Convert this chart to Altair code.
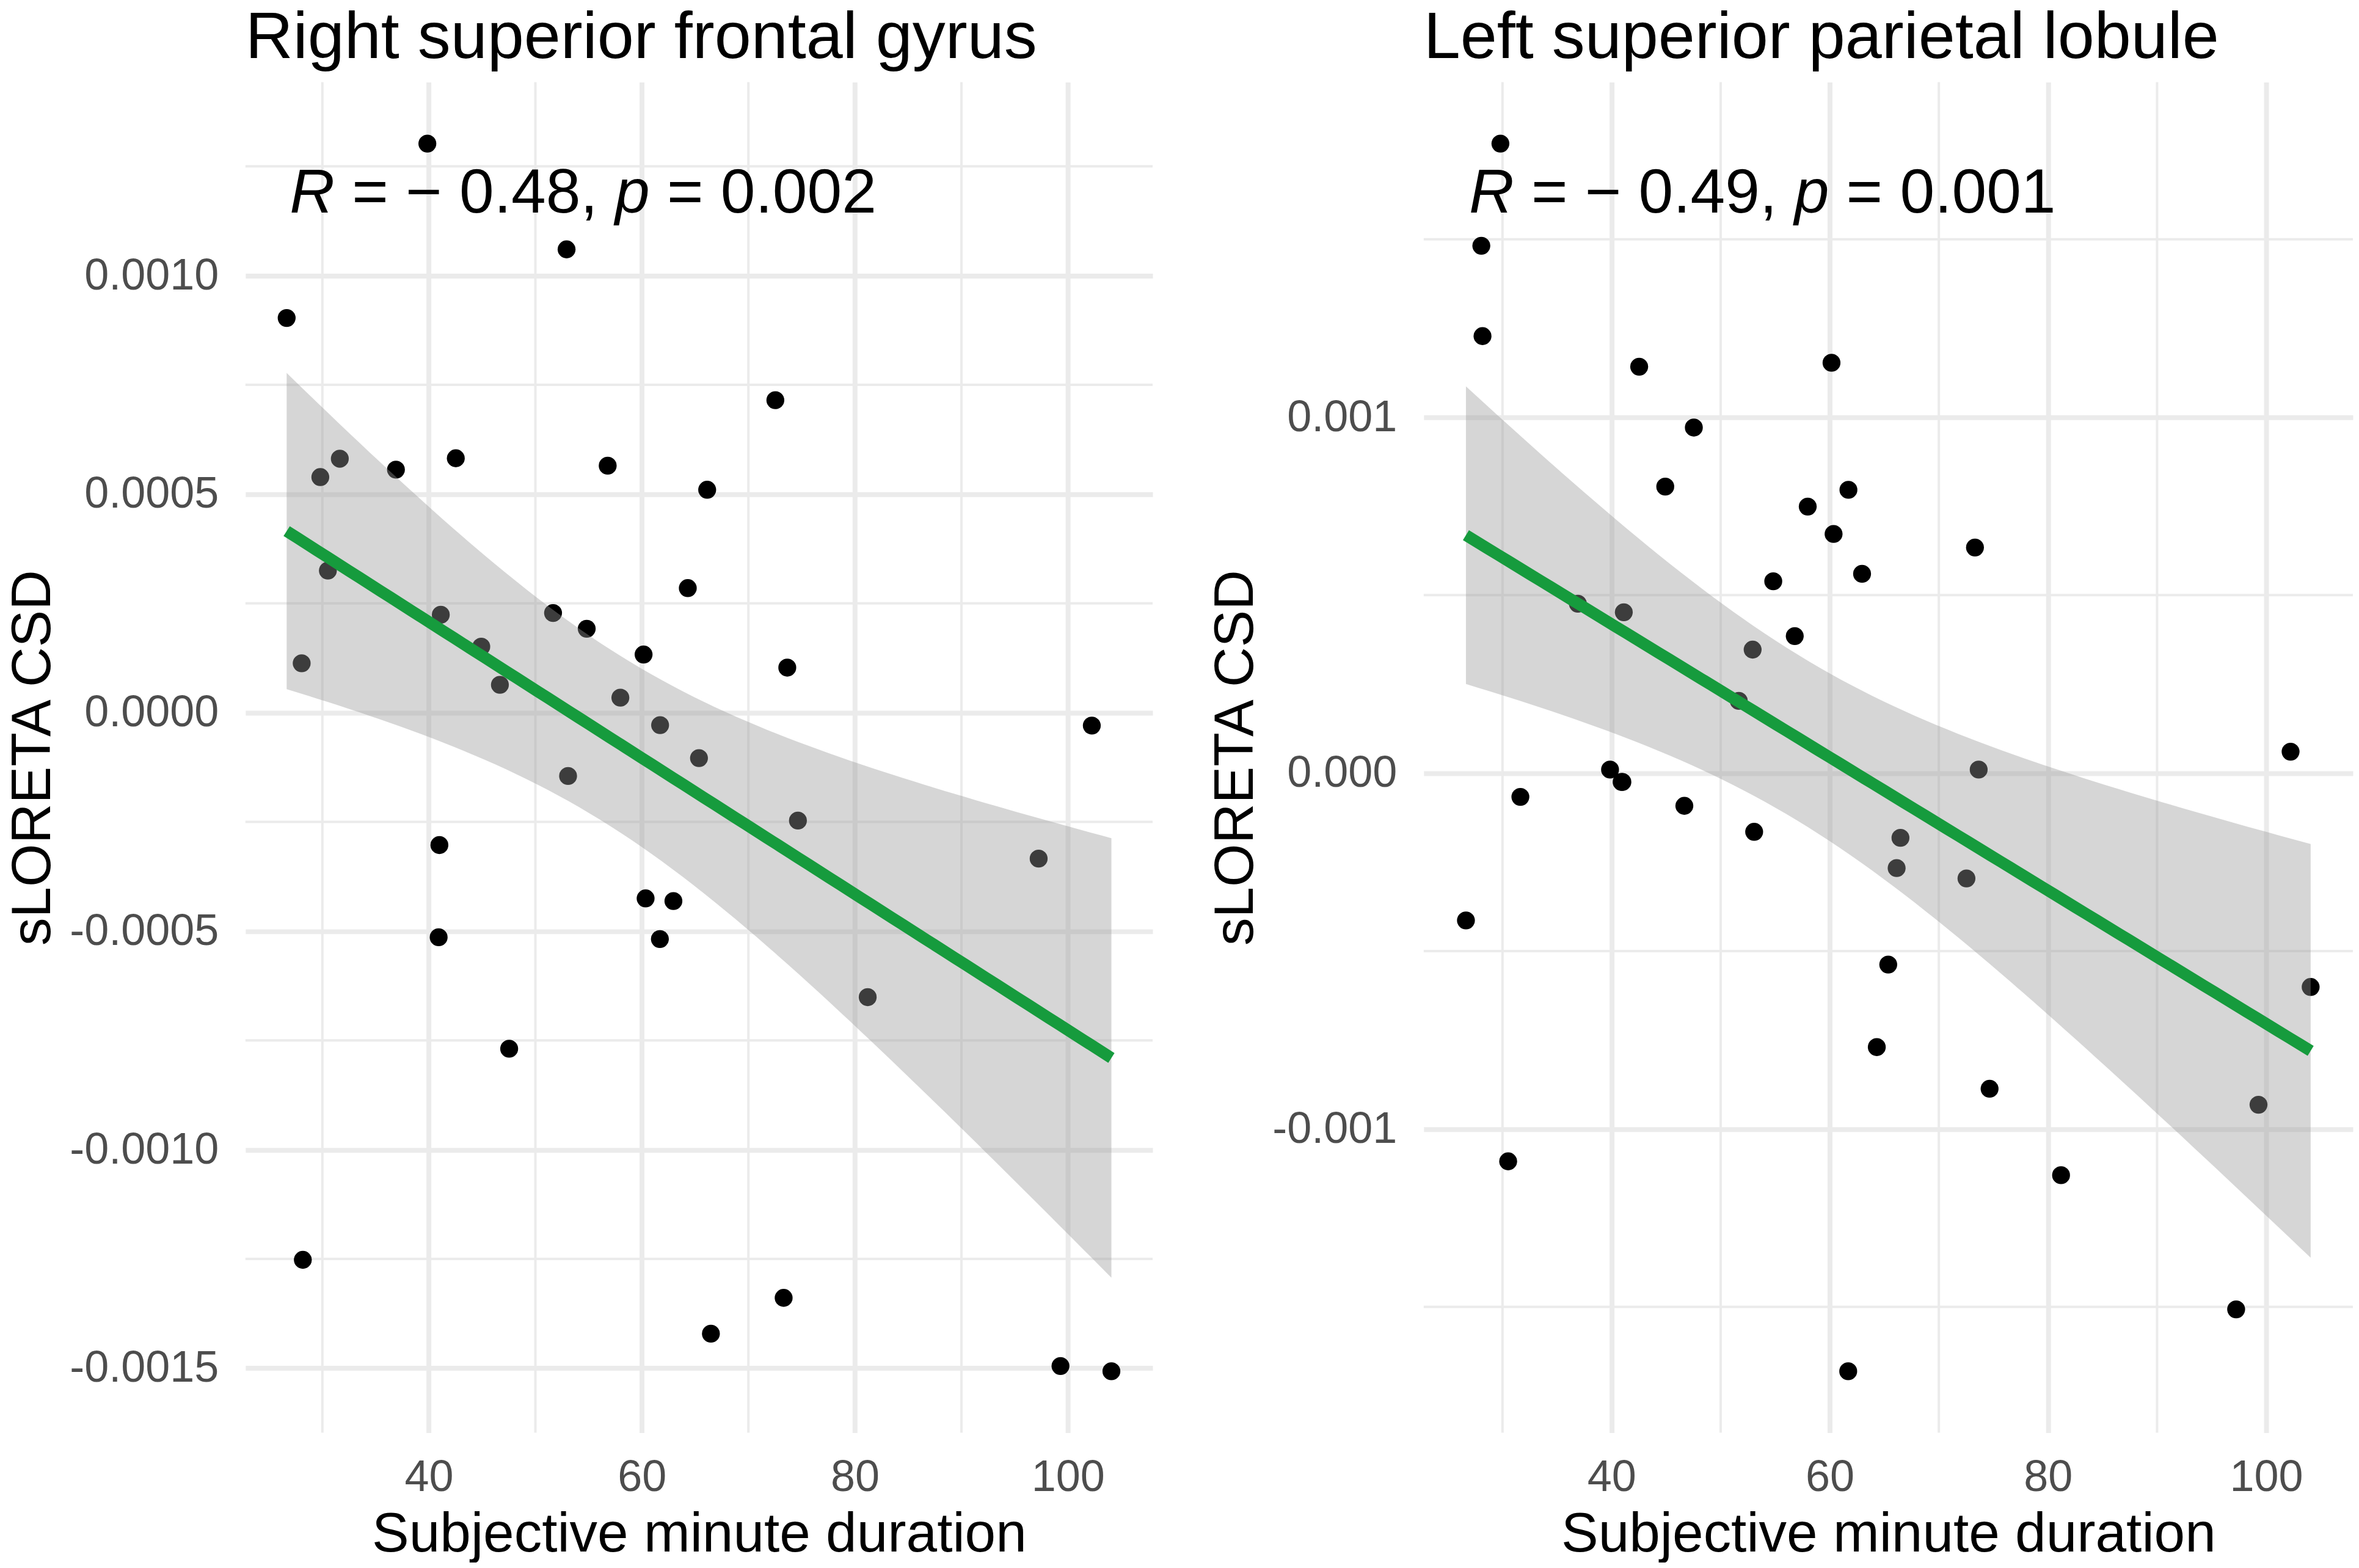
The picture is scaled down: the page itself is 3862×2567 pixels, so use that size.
import altair as alt
import numpy as np
import pandas as pd

# ---------------- data ----------------
duration = [26.65, 39.86, 52.93, 29.81, 31.64, 36.91, 42.53, 56.79, 66.13, 72.53,
            30.52, 64.31, 28.06, 41.12, 51.66, 54.82, 44.92, 60.16, 73.65, 46.67,
            57.98, 61.71, 102.24, 65.36, 53.07, 74.65, 97.25, 40.99, 60.35, 62.96,
            40.92, 61.69, 81.20, 47.54, 28.17, 73.31, 66.48, 99.30, 104.08]

csd_frontal = [0.000903, 0.001302, 0.001060, 0.000539, 0.000581, 0.000556, 0.000582, 0.000565,
               0.000510, 0.000715, 0.000325, 0.000285, 0.000113, 0.000224, 0.000228, 0.000192,
               0.000151, 0.000133, 0.000103, 0.0000638, 0.0000342, -0.0000285, -0.0000296,
               -0.000104, -0.000145, -0.000247, -0.000334, -0.000303, -0.000425, -0.000431,
               -0.000514, -0.000518, -0.000651, -0.000769, -0.001252, -0.001339, -0.001421,
               -0.001495, -0.001507]

csd_parietal = [-0.000414, 0.0000098, 0.000347, 0.001769, -0.0000668, 0.000476, 0.001142, 0.000385,
                -0.000267, -0.000296, -0.001091, -0.000770, 0.001482, 0.000452, 0.000203, 0.000539,
                0.000805, 0.001153, 0.0000098, -0.000092, 0.000749, 0.000796, 0.0000602,
                -0.000538, -0.000165, -0.000887, -0.001507, -0.000025, 0.000672, 0.000560,
                -0.000025, -0.001681, -0.001130, 0.000971, 0.001228, 0.000634, -0.000182,
                -0.000932, -0.000601]

panel_titles = ["Right superior frontal gyrus", "Left superior parietal lobule"]
r_values = ["\u2212 0.48", "\u2212 0.49"]
p_values = ["0.002", "0.001"]

x_title = "Subjective minute duration"
y_title = "sLORETA CSD"
x_ticks = [40, 60, 80, 100]
x_minor = [30, 50, 70, 90]
y_ticks_frontal = [-0.0015, -0.0010, -0.0005, 0.0, 0.0005, 0.0010]
y_minor_frontal = [-0.00125, -0.00075, -0.00025, 0.00025, 0.00075, 0.00125]
y_ticks_parietal = [-0.001, 0.0, 0.001]
y_minor_parietal = [-0.0015, -0.0005, 0.0005, 0.0015]

FONT = "Liberation Sans"
GRID = "#EBEBEB"
GREEN = "#169B3D"
T975 = 2.0262  # t quantile, df = n - 2 = 37


def expanded(vals, frac=0.05):
    lo, hi = min(vals), max(vals)
    pad = (hi - lo) * frac
    return [lo - pad, hi + pad]


def fit_band(x, y, n_grid=80):
    x = np.asarray(x, float)
    y = np.asarray(y, float)
    n = len(x)
    b, a = np.polyfit(x, y, 1)
    resid = y - (a + b * x)
    s = np.sqrt(np.sum(resid ** 2) / (n - 2))
    xbar = x.mean()
    sxx = np.sum((x - xbar) ** 2)
    grid = np.linspace(x.min(), x.max(), n_grid)
    fit = a + b * grid
    se = s * np.sqrt(1.0 / n + (grid - xbar) ** 2 / sxx)
    return pd.DataFrame({"x": grid, "fit": fit, "lo": fit - T975 * se, "hi": fit + T975 * se})


def panel(yvals, title, yticks, yminor, decimals, r_txt, p_txt, width):
    xdom = expanded(duration)
    ydom = expanded(yvals)
    xscale = alt.Scale(domain=xdom, nice=False, zero=False)
    yscale = alt.Scale(domain=ydom, nice=False, zero=False)
    xaxis = alt.Axis(values=x_ticks, grid=True, gridColor=GRID, gridWidth=8, domain=False,
                     ticks=False, tickSize=0, labelFontSize=72, labelColor="#4D4D4D",
                     labelFont=FONT, labelPadding=38, labelFlush=False, labelLimit=0,
                     titleFont=FONT, titleFontSize=91, titleFontWeight="normal",
                     titleColor="black", titlePadding=13, titleLimit=0, maxExtent=400)
    yaxis = alt.Axis(values=yticks, grid=True, gridColor=GRID, gridWidth=8, domain=False,
                     ticks=False, tickSize=0, labelFontSize=72, labelColor="#4D4D4D",
                     labelFont=FONT, labelPadding=44, labelFlush=False, labelLimit=0,
                     titleFont=FONT, titleFontSize=91, titleFontWeight="normal",
                     titleColor="black", titlePadding=13, titleLimit=0, maxExtent=400,
                     labelExpr="(datum.value < 0 ? '-' : '') + format(abs(datum.value), '.%df')" % decimals)

    def X(field):
        return alt.X(field, type="quantitative", scale=xscale, axis=xaxis, title=x_title)

    def Y(field):
        return alt.Y(field, type="quantitative", scale=yscale, axis=yaxis, title=y_title)

    pts = pd.DataFrame({"x": duration, "y": yvals})
    band = fit_band(duration, yvals)

    minor_x = alt.Chart(pd.DataFrame({"x": x_minor})).mark_rule(
        color=GRID, strokeWidth=4).encode(x=X("x"))
    minor_y = alt.Chart(pd.DataFrame({"y": yminor})).mark_rule(
        color=GRID, strokeWidth=4).encode(y=Y("y"))
    points = alt.Chart(pts).mark_circle(size=860, color="black", opacity=1).encode(
        x=X("x"), y=Y("y"))
    area = alt.Chart(band).mark_area(color="#999999", opacity=0.4).encode(
        x=X("x"), y=Y("lo"), y2="hi")
    line = alt.Chart(band).mark_line(color=GREEN, strokeWidth=19).encode(
        x=X("x"), y=Y("fit"))

    lab = pd.DataFrame({"x": [min(duration)], "y": [max(yvals)]})
    # pieces of "R = − 0.48, p = 0.002" (italic R and p), offsets in px
    pieces = [("R", "italic", 5), ("= " + r_txt + ",", "normal", 107),
              ("p", "italic", 538.0), ("= " + p_txt, "normal", 623)]
    texts = []
    for txt, style, dx in pieces:
        texts.append(
            alt.Chart(lab).mark_text(align="left", baseline="alphabetic", dx=dx, dy=113,
                                     fontSize=102, font=FONT, fontStyle=style,
                                     color="black", text=txt)
            .encode(x=X("x"), y=Y("y")))

    return alt.layer(minor_x, minor_y, points, area, line, *texts).properties(
        width=width, height=2212,
        title=alt.TitleParams(title, fontSize=108, font=FONT, fontWeight="normal",
                              color="black", anchor="start", frame="group", offset=15))


left = panel(csd_frontal, panel_titles[0], y_ticks_frontal, y_minor_frontal, 4,
             r_values[0], p_values[0], 1486)
right = panel(csd_parietal, panel_titles[1], y_ticks_parietal, y_minor_parietal, 3,
              r_values[1], p_values[1], 1522)

chart = alt.hconcat(left, right, spacing=88).properties(
    padding=0, background="white"
).configure_view(stroke=None)

chart.save("out.html", embed_options={"renderer": "svg", "actions": False})
